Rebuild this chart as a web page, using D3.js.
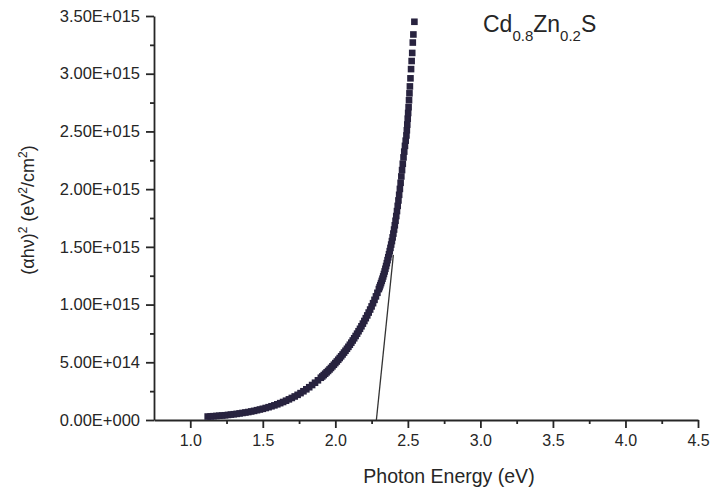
<!DOCTYPE html>
<html>
<head>
<meta charset="utf-8">
<script src="https://cdn.jsdelivr.net/npm/d3@7"></script>
<style>
  body { margin: 0; background: #fff; }
  svg { display: block; }
  text { font-family: "Liberation Sans", Arial, sans-serif; fill: #262626; }
  .axis path, .axis line { stroke: #262626; }
</style>
</head>
<body>
<svg id="chart" width="710" height="489"></svg>
<script>
// photon energy (eV) and (alpha h nu)^2 in units of 1E15 eV^2/cm^2
var energy = [
    1.12, 1.14, 1.16, 1.18, 1.20, 1.22, 1.24, 1.26, 1.28, 1.30,
    1.32, 1.34, 1.36, 1.38, 1.40, 1.42, 1.44, 1.46, 1.48, 1.50,
    1.52, 1.54, 1.56, 1.58, 1.60, 1.62, 1.64, 1.66, 1.68, 1.70,
    1.72, 1.74, 1.76, 1.78, 1.80, 1.82, 1.84, 1.86, 1.88, 1.90,
    1.91, 1.92, 1.93, 1.94, 1.95, 1.96, 1.97, 1.98, 1.99, 2.00,
    2.01, 2.02, 2.03, 2.04, 2.05, 2.06, 2.07, 2.08, 2.09, 2.10,
    2.11, 2.12, 2.13, 2.14, 2.15, 2.16, 2.17, 2.18, 2.19, 2.20,
    2.21, 2.22, 2.23, 2.24, 2.25, 2.26, 2.27, 2.28, 2.29, 2.30,
    2.305, 2.31, 2.315, 2.32, 2.325, 2.33, 2.335, 2.34, 2.345, 2.35,
    2.355, 2.36, 2.365, 2.37, 2.375, 2.38, 2.385, 2.39, 2.395, 2.40,
    2.405, 2.41, 2.415, 2.42, 2.425, 2.43, 2.435, 2.44, 2.445, 2.45,
    2.455, 2.46, 2.465, 2.47, 2.475, 2.48, 2.485, 2.49, 2.493, 2.496,
    2.499, 2.502, 2.505, 2.508, 2.511, 2.514, 2.518, 2.522, 2.526, 2.530,
    2.534, 2.538, 2.545];
var absSq = [
    0.030, 0.031, 0.033, 0.035, 0.037, 0.039, 0.041, 0.044, 0.047, 0.050,
    0.053, 0.057, 0.061, 0.065, 0.069, 0.074, 0.079, 0.085, 0.091, 0.097,
    0.104, 0.111, 0.119, 0.127, 0.136, 0.146, 0.156, 0.167, 0.179, 0.191,
    0.204, 0.218, 0.233, 0.249, 0.266, 0.284, 0.303, 0.323, 0.344, 0.366,
    0.377, 0.389, 0.401, 0.413, 0.425, 0.438, 0.451, 0.465, 0.479, 0.493,
    0.507, 0.522, 0.537, 0.552, 0.568, 0.584, 0.600, 0.617, 0.634, 0.652,
    0.670, 0.689, 0.708, 0.728, 0.748, 0.769, 0.790, 0.812, 0.835, 0.858,
    0.882, 0.906, 0.931, 0.957, 0.984, 1.012, 1.041, 1.071, 1.102, 1.134,
    1.151, 1.168, 1.186, 1.205, 1.224, 1.244, 1.265, 1.287, 1.310, 1.334,
    1.359, 1.385, 1.410, 1.436, 1.463, 1.491, 1.520, 1.550, 1.582, 1.615,
    1.650, 1.687, 1.726, 1.767, 1.810, 1.855, 1.902, 1.951, 2.002, 2.055,
    2.110, 2.165, 2.220, 2.275, 2.325, 2.375, 2.420, 2.465, 2.51, 2.56,
    2.61, 2.66, 2.71, 2.77, 2.83, 2.89, 2.96, 3.04, 3.11, 3.18,
    3.27, 3.34, 3.45];

// tangent line extrapolated to the energy axis
var fitEnergy = [2.283, 2.40];
var fitAbsSq = [0, 1.43];

var xTicks = [1.0, 1.5, 2.0, 2.5, 3.0, 3.5, 4.0, 4.5];
var xTickLabels = ['1.0', '1.5', '2.0', '2.5', '3.0', '3.5', '4.0', '4.5'];
var xMinor = [1.25, 1.75, 2.25, 2.75, 3.25, 3.75, 4.25];
var yTicks = [0, 0.5, 1.0, 1.5, 2.0, 2.5, 3.0, 3.5];
var yTickLabels = ['0.00E+000', '5.00E+014', '1.00E+015', '1.50E+015',
    '2.00E+015', '2.50E+015', '3.00E+015', '3.50E+015'];
var yMinor = [0.25, 0.75, 1.25, 1.75, 2.25, 2.75, 3.25];

var svg = d3.select('#chart');

var x = d3.scaleLinear().domain([0.75, 4.5]).range([154, 698]);
var y = d3.scaleLinear().domain([0, 3.5]).range([420, 16]);

// minor ticks first, no domain line
svg.append('g')
    .attr('class', 'axis')
    .attr('transform', 'translate(0,420)')
    .call(d3.axisBottom(x).tickValues(xMinor).tickSize(4).tickFormat(''))
    .call(function(g){ g.select('.domain').remove(); });
svg.append('g')
    .attr('class', 'axis')
    .attr('transform', 'translate(154,0)')
    .call(d3.axisLeft(y).tickValues(yMinor).tickSize(4).tickFormat(''))
    .call(function(g){ g.select('.domain').remove(); });

var xAxis = svg.append('g')
    .attr('class', 'axis')
    .attr('transform', 'translate(0,420)')
    .call(d3.axisBottom(x).tickValues(xTicks).tickSizeInner(8).tickSizeOuter(0)
        .tickFormat(function(d, i){ return xTickLabels[i]; }));
xAxis.selectAll('text').attr('font-size', 16).attr('dy', '0.95em');

var yAxis = svg.append('g')
    .attr('class', 'axis')
    .attr('transform', 'translate(154,0)')
    .call(d3.axisLeft(y).tickValues(yTicks).tickSizeInner(8).tickSizeOuter(0)
        .tickFormat(function(d, i){ return yTickLabels[i]; }));
yAxis.selectAll('text').attr('font-size', 16.5).attr('x', -14);

svg.selectAll('.axis path, .axis line').attr('stroke-width', 1.8);

// fitted line
svg.append('line')
    .attr('x1', x(fitEnergy[0])).attr('y1', y(fitAbsSq[0]))
    .attr('x2', x(fitEnergy[1])).attr('y2', y(fitAbsSq[1]))
    .attr('stroke', '#333')
    .attr('stroke-width', 1.3);

// data squares
var pts = energy.map(function(e, i){ return {e: e, v: absSq[i]}; });
svg.append('g').selectAll('rect')
    .data(pts)
    .enter()
    .append('rect')
        .attr('x', function(d){ return x(d.e) - 3.3; })
        .attr('y', function(d){ return y(d.v) - 3.3; })
        .attr('width', 6.6)
        .attr('height', 6.6)
        .attr('fill', '#28233f');

// axis titles
svg.append('text')
    .attr('x', 449).attr('y', 483)
    .attr('text-anchor', 'middle')
    .attr('font-size', 19.5)
    .text('Photon Energy (eV)');

var yt = svg.append('text')
    .attr('transform', 'translate(34,210) rotate(-90)')
    .attr('text-anchor', 'middle')
    .attr('font-size', 18);
yt.append('tspan').text('(\u03B1h\u03BD)');
yt.append('tspan').attr('baseline-shift', 'super').attr('font-size', 12).text('2');
yt.append('tspan').text(' (eV');
yt.append('tspan').attr('baseline-shift', 'super').attr('font-size', 12).text('2');
yt.append('tspan').text('/cm');
yt.append('tspan').attr('baseline-shift', 'super').attr('font-size', 12).text('2');
yt.append('tspan').text(')');

// sample label
var lab = svg.append('text')
    .attr('x', 483).attr('y', 32)
    .attr('font-size', 23);
lab.append('tspan').text('Cd');
lab.append('tspan').attr('baseline-shift', 'sub').attr('font-size', 15).text('0.8');
lab.append('tspan').text('Zn');
lab.append('tspan').attr('baseline-shift', 'sub').attr('font-size', 15).text('0.2');
lab.append('tspan').text('S');
</script>
</body>
</html>
